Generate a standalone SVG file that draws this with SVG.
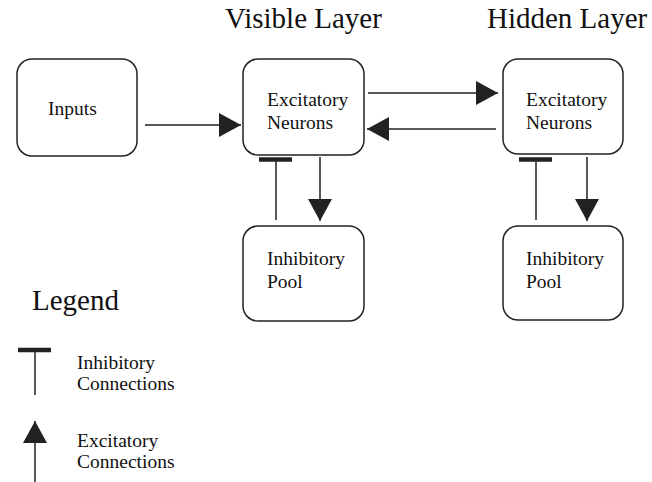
<svg xmlns="http://www.w3.org/2000/svg" width="652" height="482" viewBox="0 0 652 482">
<style>
.box{fill:#fff;stroke:#222;stroke-width:1.5}
.t{font-family:"Liberation Serif","Times New Roman",serif;fill:#111}
.lbl{font-size:19.5px}
.ttl{font-size:29px}
.ln{stroke:#222;stroke-width:1.5;fill:none}
.bar{stroke:#222;stroke-width:4.5;fill:none}
</style>
<defs>
<marker id="ah" viewBox="0 0 22 24" refX="22" refY="12" markerWidth="22" markerHeight="24" markerUnits="userSpaceOnUse" orient="auto">
<path d="M0,0 L22,12 L0,24 Z" fill="#222"/>
</marker>
</defs>
<rect width="652" height="482" fill="#fff"/>
<g id="titles">
<text class="t ttl" x="225" y="28">Visible Layer</text>
<text class="t ttl" x="487" y="28">Hidden Layer</text>
</g>
<g id="inputs">
<rect class="box" x="17" y="59" width="120" height="97" rx="15"/>
<text class="t lbl" x="48" y="115">Inputs</text>
</g>
<g id="visible-excitatory">
<rect class="box" x="243" y="59" width="121" height="96" rx="15"/>
<text class="t lbl" x="267" y="106">Excitatory</text>
<text class="t lbl" x="267" y="129">Neurons</text>
</g>
<g id="hidden-excitatory">
<rect class="box" x="503" y="59" width="120" height="95" rx="15"/>
<text class="t lbl" x="526" y="106">Excitatory</text>
<text class="t lbl" x="526" y="129">Neurons</text>
</g>
<g id="visible-inhibitory">
<rect class="box" x="243" y="226" width="121" height="95" rx="15"/>
<text class="t lbl" x="267" y="265">Inhibitory</text>
<text class="t lbl" x="267" y="288">Pool</text>
</g>
<g id="hidden-inhibitory">
<rect class="box" x="503" y="226" width="120" height="94" rx="15"/>
<text class="t lbl" x="526" y="265">Inhibitory</text>
<text class="t lbl" x="526" y="288">Pool</text>
</g>
<g id="connectors">
<line class="ln" x1="145" y1="125" x2="241" y2="125" marker-end="url(#ah)"/>
<line class="ln" x1="368" y1="93" x2="498" y2="93" marker-end="url(#ah)"/>
<line class="ln" x1="496" y1="129" x2="367" y2="129" marker-end="url(#ah)"/>
<line class="ln" x1="276" y1="220" x2="276" y2="160"/>
<line class="bar" x1="259" y1="159.5" x2="292" y2="159.5"/>
<line class="ln" x1="320" y1="157" x2="320" y2="221" marker-end="url(#ah)"/>
<line class="ln" x1="536" y1="220" x2="536" y2="160"/>
<line class="bar" x1="519" y1="159.5" x2="552" y2="159.5"/>
<line class="ln" x1="587" y1="157" x2="587" y2="221" marker-end="url(#ah)"/>
</g>
<g id="legend">
<text class="t ttl" x="32" y="310">Legend</text>
<line class="ln" x1="35" y1="350" x2="35" y2="395"/>
<line class="bar" x1="18" y1="350" x2="51" y2="350"/>
<text class="t lbl" x="77" y="369">Inhibitory</text>
<text class="t lbl" x="77" y="390">Connections</text>
<line class="ln" x1="35" y1="482" x2="35" y2="421" marker-end="url(#ah)"/>
<text class="t lbl" x="77" y="447">Excitatory</text>
<text class="t lbl" x="77" y="468">Connections</text>
</g>
</svg>
